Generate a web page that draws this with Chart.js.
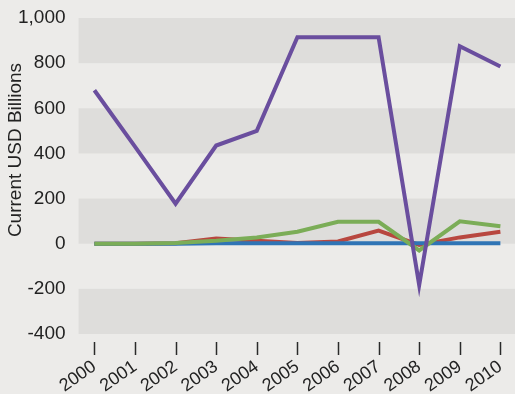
<!DOCTYPE html>
<html>
<head>
<meta charset="utf-8">
<script src="https://cdn.jsdelivr.net/npm/chart.js@4/dist/chart.umd.min.js"></script>
<style>
    html, body { margin: 0; padding: 0; background: #ecebe9; }
    #chart { display: block; }
</style>
</head>
<body>
<canvas id="chart" width="515" height="394"></canvas>
<script>
// Datos
const years = ['2000', '2001', '2002', '2003', '2004', '2005', '2006', '2007', '2008', '2009', '2010'];
const purpleSeries = [680, 430, 177, 435, 500, 915, 915, 915, -183, 875, 785];
const greenSeries = [0, 0, 3, 13, 28, 53, 97, 97, -30, 99, 77];
const redSeries = [0, 0, 2, 23, 13, 3, 10, 58, -5, 28, 53];
const blueSeries = [0, 0, 0, 2, 2, 2, 2, 2, 2, 2, 2];
const yTicks = [-400, -200, 0, 200, 400, 600, 800, 1000];
const yTitle = 'Current USD Billions';

const FONT = "'Liberation Sans', Arial, sans-serif";

function toPoints(values) {
    return values.map((v, i) => ({ x: i, y: v }));
}

function lineDataset(label, values, color, order) {
    return {
        label: label,
        data: toPoints(values),
        borderColor: color,
        backgroundColor: color,
        borderWidth: 4,
        pointRadius: 0,
        tension: 0,
        borderJoinStyle: 'miter',
        order: order
    };
}

// Franjas grises alternas detrás del gráfico
const bandsPlugin = {
    id: 'bands',
    beforeDatasetsDraw(chart) {
        const { ctx, chartArea, scales } = chart;
        const y = scales.y;
        const sorted = [...yTicks].sort((a, b) => b - a);
        ctx.save();
        ctx.fillStyle = '#dedddb';
        for (let i = 0; i < sorted.length - 1; i += 2) {
            const top = y.getPixelForValue(sorted[i]);
            const bottom = y.getPixelForValue(sorted[i + 1]);
            ctx.fillRect(chartArea.left, top, chartArea.right - chartArea.left, bottom - top);
        }
        ctx.restore();
    }
};

// Marcas del eje X separadas del área del gráfico + título del eje Y
const extrasPlugin = {
    id: 'extras',
    afterDraw(chart) {
        const { ctx, chartArea, scales } = chart;
        ctx.save();
        ctx.strokeStyle = '#2a2a2a';
        ctx.lineWidth = 1.5;
        years.forEach((_, i) => {
            const x = Math.round(scales.x.getPixelForValue(i)) + 0.5;
            ctx.beginPath();
            ctx.moveTo(x, chartArea.bottom + 8);
            ctx.lineTo(x, chartArea.bottom + 21);
            ctx.stroke();
        });

        ctx.translate(16, 150);
        ctx.rotate(-Math.PI / 2);
        ctx.fillStyle = '#222';
        ctx.font = '19px ' + FONT;
        ctx.textAlign = 'center';
        ctx.textBaseline = 'middle';
        ctx.fillText(yTitle, 0, 0);
        ctx.restore();
    }
};

new Chart(document.getElementById('chart'), {
    type: 'line',
    data: {
        datasets: [
            lineDataset('Series A', purpleSeries, '#6a4e9e', 0),
            lineDataset('Series B', greenSeries, '#7bad57', 1),
            lineDataset('Series C', blueSeries, '#2f74b5', 2),
            lineDataset('Series D', redSeries, '#b8473f', 3)
        ]
    },
    options: {
        responsive: false,
        devicePixelRatio: 1,
        animation: false,
        layout: {
            padding: { left: 5, right: 0, top: 18, bottom: 0 }
        },
        plugins: {
            legend: { display: false },
            tooltip: { enabled: false }
        },
        scales: {
            x: {
                type: 'linear',
                min: -0.39,
                max: 10.36,
                grid: { display: false, drawTicks: false },
                border: { display: false },
                afterFit: function(scale) {
                    scale.height = 60;
                    scale.paddingLeft = 0;
                    scale.paddingRight = 0;
                },
                ticks: {
                    stepSize: 1,
                    includeBounds: false,
                    autoSkip: false,
                    minRotation: 35,
                    maxRotation: 35,
                    padding: 22,
                    color: '#222',
                    font: { family: FONT, size: 18 },
                    callback: function(value) {
                        return years[value] !== undefined ? years[value] : '';
                    }
                }
            },
            y: {
                min: -400,
                max: 1000,
                grid: { display: false, drawTicks: false },
                border: { display: false },
                afterBuildTicks: function(axis) {
                    axis.ticks = yTicks.map(v => ({ value: v }));
                },
                afterFit: function(scale) {
                    scale.paddingTop = 0;
                    scale.paddingBottom = 0;
                },
                ticks: {
                    padding: 13,
                    color: '#222',
                    font: { family: FONT, size: 19 },
                    callback: function(value) {
                        return value.toLocaleString('en-US');
                    }
                }
            }
        }
    },
    plugins: [bandsPlugin, extrasPlugin]
});
</script>
</body>
</html>
